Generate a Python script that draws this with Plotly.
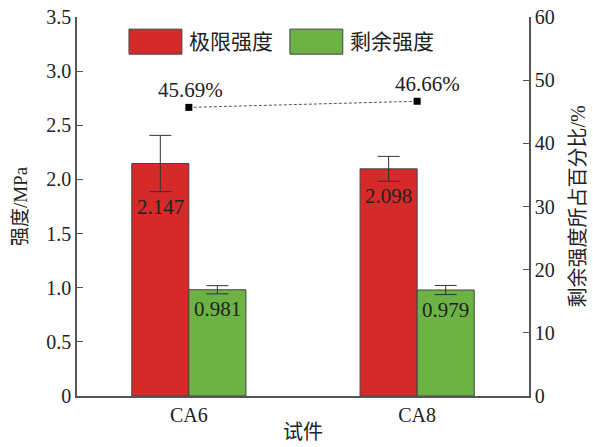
import plotly.graph_objects as go

categories = ["CA6", "CA8"]
ultimate = [2.147, 2.098]
ultimate_err = [0.26, 0.115]
residual = [0.981, 0.979]
residual_err = [0.038, 0.042]
ratio = [45.69, 46.66]
ratio_labels = ["45.69%", "46.66%"]
left_ticks = [0, 0.5, 1.0, 1.5, 2.0, 2.5, 3.0, 3.5]
left_ticktext = ["0", "0.5", "1.0", "1.5", "2.0", "2.5", "3.0", "3.5"]
right_ticks = [0, 10, 20, 30, 40, 50, 60]

RED = "#D42A2A"
GREEN = "#6CB244"
AX = "#555555"
TXT = "#222222"
FONT = "'Liberation Serif', 'Noto Sans CJK SC', serif"
NUMFONT = "Liberation Serif"

fig = go.Figure()
fig.add_trace(go.Bar(
    x=categories, y=ultimate, name="极限强度",
    marker=dict(color=RED, line=dict(color="#444444", width=1)),
    error_y=dict(type="data", array=ultimate_err, color="#333333", thickness=1, width=11),
))
fig.add_trace(go.Bar(
    x=categories, y=residual, name="剩余强度",
    marker=dict(color=GREEN, line=dict(color="#444444", width=1)),
    error_y=dict(type="data", array=residual_err, color="#333333", thickness=1, width=11),
))
fig.add_trace(go.Scatter(
    x=categories, y=ratio, yaxis="y2", mode="lines+markers",
    line=dict(color="#555555", width=1, dash="3px,2px"),
    marker=dict(symbol="square", size=7, color="black"),
))

ann = []
label_xshift = [2, 10]
for i, c in enumerate(categories):
    ann.append(dict(x=c, y=ultimate[i] - ultimate_err[i], xref="x", yref="y",
                    text=f"{ultimate[i]:.3f}", showarrow=False, xshift=-28.5,
                    yanchor="top", yshift=-1, font=dict(family=NUMFONT, size=21, color=TXT)))
    ann.append(dict(x=c, y=residual[i] - residual_err[i], xref="x", yref="y",
                    text=f"{residual[i]:.3f}", showarrow=False, xshift=28.5,
                    yanchor="top", yshift=-1, font=dict(family=NUMFONT, size=21, color=TXT)))
    ann.append(dict(x=c, y=ratio[i], xref="x", yref="y2", text=ratio_labels[i],
                    showarrow=False, yanchor="bottom", yshift=3, xshift=label_xshift[i],
                    font=dict(family=NUMFONT, size=21, color=TXT)))

# custom legend
shapes = [
    dict(type="rect", xref="paper", yref="paper", x0=0.115, x1=0.232, y0=0.902, y1=0.968,
         fillcolor=RED, line=dict(color="#444444", width=1)),
    dict(type="rect", xref="paper", yref="paper", x0=0.471, x1=0.588, y0=0.902, y1=0.968,
         fillcolor=GREEN, line=dict(color="#444444", width=1)),
]
ann.append(dict(x=0.243, y=0.935, xref="paper", yref="paper", text="极限强度", showarrow=False,
                xanchor="left", yanchor="middle", font=dict(family=FONT, size=21, color=TXT)))
ann.append(dict(x=0.600, y=0.935, xref="paper", yref="paper", text="剩余强度", showarrow=False,
                xanchor="left", yanchor="middle", font=dict(family=FONT, size=21, color=TXT)))

fig.update_layout(
    width=593, height=447,
    margin=dict(l=77, r=64, t=17, b=51),
    paper_bgcolor="white", plot_bgcolor="white",
    showlegend=False,
    barmode="group", bargap=0.5, bargroupgap=0,
    font=dict(family=FONT, size=20, color=TXT),
    xaxis=dict(range=[-0.49, 1.49], showline=True, linecolor=AX, linewidth=1.5,
               ticks="", showgrid=False, zeroline=False, automargin=False,
               title=dict(text="试件", standoff=0, font=dict(size=20)),
               tickfont=dict(size=20)),
    yaxis=dict(range=[0, 3.5], tickvals=left_ticks, ticktext=left_ticktext,
               showline=True, linecolor=AX, linewidth=1.5, ticks="inside", ticklen=6,
               tickcolor=AX, showgrid=False, zeroline=False, tickfont=dict(size=20),
               automargin=False,
               title=dict(text="强度/MPa", standoff=14, font=dict(size=19))),
    yaxis2=dict(range=[0, 60], tickvals=right_ticks, overlaying="y", side="right",
                showline=True, linecolor=AX, linewidth=1.5, ticks="inside", ticklen=6,
                tickcolor=AX, showgrid=False, zeroline=False, tickfont=dict(size=20),
                automargin=False,
                title=dict(text="剩余强度所占百分比/%", standoff=17, font=dict(size=20))),
    shapes=shapes, annotations=ann,
)

fig.write_html("out.html")
